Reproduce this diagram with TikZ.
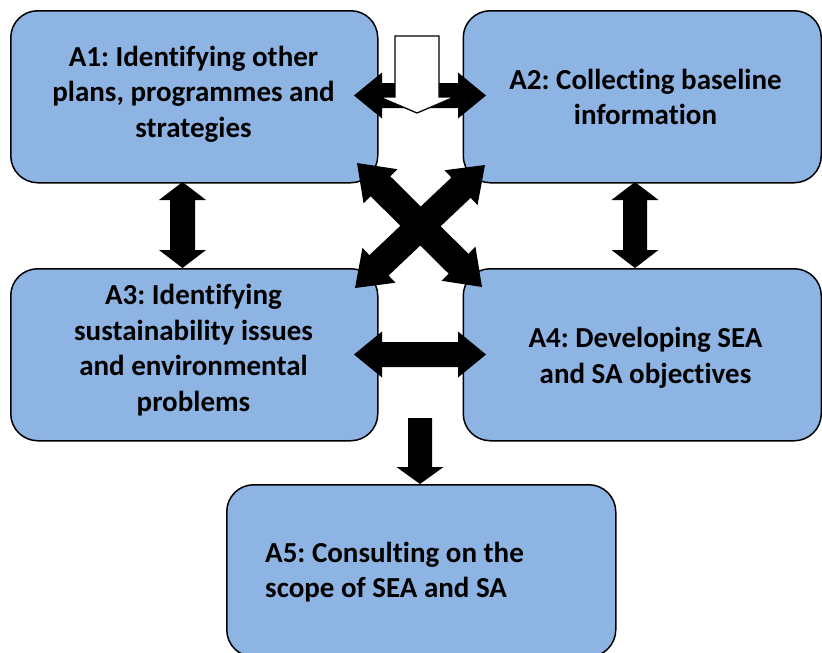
\documentclass[tikz,border=0pt]{standalone}
\usepackage{fontspec}
\setmainfont{Carlito}[Ligatures={NoCommon}]
\usetikzlibrary{calc}
\definecolor{boxblue}{HTML}{8EB4E3}
\tikzset{
  actbox/.style={draw=black, line width=1.5pt, fill=boxblue, rounded corners=27pt,
    minimum width=#1, minimum height=172pt, anchor=north west, inner sep=0pt},
  acttext/.style={align=center, inner sep=0pt,
    font=\frenchspacing\bfseries\fontsize{29}{35.5}\selectfont},
  blockarrow/.style={fill=black},
  hollowarrow/.style={fill=white, draw=black, line width=1.3pt, line join=miter},
}
% double block arrow: #1 #2 tips, #3 half shaft, #4 half head, #5 head length
\newcommand\dblarrow[5]{%
  \fill[blockarrow] (#1) -- ($(#1)!#5!(#2)!#4!90:(#2)$) -- ($(#1)!#5!(#2)!#3!90:(#2)$)
   -- ($(#2)!#5!(#1)!#3!-90:(#1)$) -- ($(#2)!#5!(#1)!#4!-90:(#1)$) -- (#2)
   -- ($(#2)!#5!(#1)!#4!90:(#1)$) -- ($(#2)!#5!(#1)!#3!90:(#1)$)
   -- ($(#1)!#5!(#2)!#3!-90:(#2)$) -- ($(#1)!#5!(#2)!#4!-90:(#2)$) -- cycle;}
% single block arrow: [style] #2 tail centre, #3 tip, #4 half shaft, #5 half head, #6 head length
\newcommand\sglarrow[6][blockarrow]{%
  \path[#1] ($(#2)!#4!90:(#3)$) -- ($(#3)!#6!(#2)!#4!-90:(#2)$) -- ($(#3)!#6!(#2)!#5!-90:(#2)$)
   -- (#3) -- ($(#3)!#6!(#2)!#5!90:(#2)$) -- ($(#3)!#6!(#2)!#4!90:(#2)$)
   -- ($(#2)!#4!-90:(#3)$) -- cycle;}
\begin{document}
\begin{tikzpicture}[x=1pt,y=-1pt]
\useasboundingbox (0,0) rectangle (822,653);
\clip (0,0) rectangle (822,653);
\fill[white] (0,0) rectangle (822,653);

\node[actbox=367pt] (a1) at (10,10) {};
\node[actbox=358pt] (a2) at (462.5,10) {};
\node[actbox=367pt] (a3) at (10,268) {};
\node[actbox=358pt] (a4) at (462.5,268) {};
\node[actbox=389pt] (a5) at (226,484) {};

\node[acttext] (t1) at (193.5,94) {A1: Identifying other\\plans, programmes and\\strategies};
\node[acttext] (t2) at (645.5,97) {A2: Collecting baseline\\information};
\node[acttext] (t3) at (193.5,350) {A3: Identifying\\sustainability issues\\and environmental\\problems};
\node[acttext] (t4) at (645.5,358) {A4: Developing SEA\\and SA objectives};
\node[acttext, align=flush left, anchor=west] (t5) at (265,572) {A5: Consulting on the\\scope of SEA and SA};

\coordinate (v1a) at (182.5,182);
\coordinate (v1b) at (182.5,268);
\coordinate (v2a) at (635,182);
\coordinate (v2b) at (635,268);
\coordinate (h1a) at (354,95.5);
\coordinate (h1b) at (486,95.5);
\coordinate (h2a) at (354,354.5);
\coordinate (h2b) at (486,354.5);
\coordinate (d1a) at (357,163);
\coordinate (d1b) at (482,287);
\coordinate (d2a) at (485,165);
\coordinate (d2b) at (355,288);
\coordinate (dna) at (420,418);
\coordinate (dnb) at (420,484);
\coordinate (wa) at (417,36);
\coordinate (wb) at (417,113);

\dblarrow{v1a}{v1b}{12.5pt}{23.5pt}{18pt}
\dblarrow{v2a}{v2b}{12pt}{23.5pt}{18pt}
\dblarrow{h1a}{h1b}{12.5pt}{23pt}{28pt}
\dblarrow{h2a}{h2b}{12.5pt}{23pt}{28pt}
\dblarrow{d1a}{d1b}{14pt}{24pt}{33pt}
\dblarrow{d2a}{d2b}{14pt}{24pt}{33pt}
\sglarrow{dna}{dnb}{12pt}{23.5pt}{17pt}
\sglarrow[hollowarrow]{wa}{wb}{22pt}{37.5pt}{16pt}
\end{tikzpicture}
\end{document}
